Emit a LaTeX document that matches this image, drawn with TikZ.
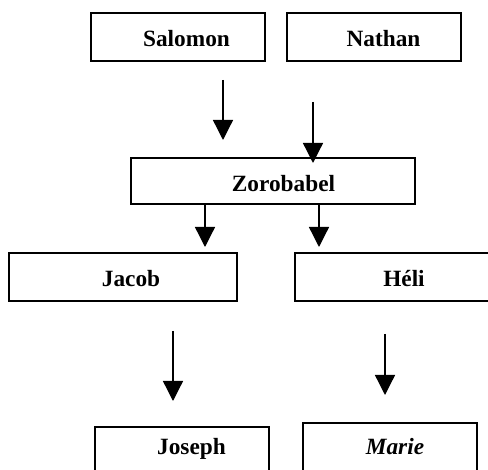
\documentclass[tikz,border=0pt]{standalone}
\usepackage{fontspec}
\setmainfont{Liberation Serif}
\usetikzlibrary{arrows.meta}
\tikzset{
  box/.style={draw=black, line width=1.8pt, inner sep=0pt, rectangle},
  txt/.style={anchor=base, inner sep=0pt, font=\fontsize{23.3}{28}\selectfont\bfseries},
  arr/.style={line width=1.3pt, -{Triangle[length=20pt,width=20pt]}}
}
\begin{document}
\begin{tikzpicture}[x=1pt,y=-1pt]
\useasboundingbox (0,0) rectangle (488,470);
\clip (0,0) rectangle (488,470);
% boxes
\node[box, minimum width=174pt, minimum height=48pt] (sal) at (178,37) {};
\node[box, minimum width=174pt, minimum height=48pt] (nat) at (374,37) {};
\node[box, minimum width=284pt, minimum height=46pt] (zor) at (273,181) {};
\node[box, minimum width=228pt, minimum height=48pt] (jac) at (123,277) {};
\node[box, minimum width=228pt, minimum height=48pt] (hel) at (409,277) {};
\node[box, minimum width=174pt, minimum height=48pt] (jos) at (182,451) {};
\node[box, minimum width=174pt, minimum height=48pt] (mar) at (390,447) {};
% texts
\node[txt] (tsal) at (186.5,47) {Salomon};
\node[txt] (tnat) at (383.5,47) {Nathan};
\node[txt] (tzor) at (283.5,192) {Zorobabel};
\node[txt] (tjac) at (131,287) {Jacob};
\node[txt] (thel) at (404,287) {Héli};
\node[txt] (tjos) at (191.5,455) {Joseph};
\node[txt] (tmar) at (395,455) {\itshape Marie};
% arrow end points
\coordinate (a1s) at (223,80);  \coordinate (a1e) at (223,140);
\coordinate (a2s) at (313,102); \coordinate (a2e) at (313,163);
\coordinate (a3s) at (205,204); \coordinate (a3e) at (205,247);
\coordinate (a4s) at (319,204); \coordinate (a4e) at (319,247);
\coordinate (a5s) at (173,331); \coordinate (a5e) at (173,401);
\coordinate (a6s) at (385,334); \coordinate (a6e) at (385,395);
\draw[arr] (a1s) -- (a1e);
\draw[arr] (a2s) -- (a2e);
\draw[arr] (a3s) -- (a3e);
\draw[arr] (a4s) -- (a4e);
\draw[arr] (a5s) -- (a5e);
\draw[arr] (a6s) -- (a6e);
\end{tikzpicture}
\end{document}
